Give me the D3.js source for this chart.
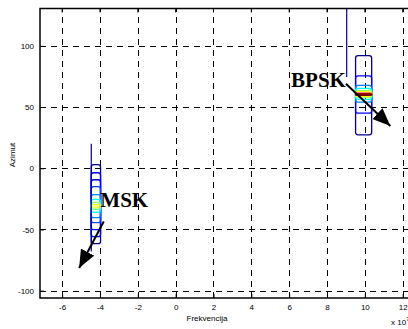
<!DOCTYPE html>
<html><head><meta charset="utf-8">
<script src="https://cdn.jsdelivr.net/npm/d3@7"></script>
<style>
html,body{margin:0;padding:0;background:#fff;overflow:hidden;}
svg{display:block;font-family:"Liberation Sans",Arial,sans-serif;}
</style></head>
<body>
<svg id="c" width="408" height="329"></svg>
<script>
// ---- data ----
const xTicks = [-6,-4,-2,0,2,4,6,8,10,12];
const yTicks = [-100,-50,0,50,100];
const xLabel = "Frekvencija";
const yLabel = "Azimut";
const xExponent = "7";

// jet-like colormap levels (index 0 = lowest)
const levelColors = ["#00008f","#0000ff","#0040ff","#0080ff","#00bfff","#00ffff","#80ff80","#ffff00","#ff8000","#ff0000","#800000"];

// MSK contour levels: y-range (top, bottom), level index
const mskX = [-4.46, -3.97];
const mskLevels = [
  {lvl:0, top:3.0,  bot:-61.6},
  {lvl:1, top:-3.7, bot:-55.9},
  {lvl:1, top:-9.4, bot:-50.2},
  {lvl:2, top:-15.0, bot:-44.5},
  {lvl:3, top:-21.6, bot:-40.4},
  {lvl:5, top:-25.5, bot:-36.0},
  {lvl:6, top:-28.0, bot:-33.5},
  {lvl:7, top:-29.8, bot:-31.8}
];
const mskStem = {x:-4.46, y0:20, y1:-68};

// BPSK contour levels
const bpskX = [9.51, 10.36];
const bpskLevels = [
  {lvl:0, top:92.0, bot:27.3},
  {lvl:1, top:75.4, bot:45.0},
  {lvl:3, top:67.7, bot:54.0},
  {lvl:5, top:65.3, bot:56.3},
  {lvl:6, top:63.6, bot:57.8},
  {lvl:7, top:62.8, bot:58.6},
  {lvl:9, top:61.3, bot:60.2},
  {lvl:10, top:60.6, bot:59.6}
];
const bpskStem = {x:9.04, y0:131, y1:74.5};

// annotations (data coordinates)
const annotations = [
  {text:"BPSK", tx:6.1, ty:66.2, ax0:9.0, ay0:69.0, ax1:11.35, ay1:34.5},
  {text:"MSK",  tx:-3.98, ty:-31.6, ax0:-3.8, ay0:-43.5, ax1:-5.1, ay1:-81.5}
];

// ---- layout ----
const svg = d3.select("#c");
const L = 40, T = 8.5, B = 298;
const x = d3.scaleLinear().domain([-7.17, 13]).range([L, L + 20.17*18.92]);
const y = d3.scaleLinear().domain([-106, 130.5]).range([B, T]);
const R = x.range()[1];

// grid
const grid = svg.append("g").attr("stroke","#000").attr("stroke-width",1).attr("stroke-dasharray","6,5").attr("fill","none");
grid.selectAll("line.vx").data(xTicks).join("line")
  .attr("x1",d=>Math.round(x(d))+0.5).attr("x2",d=>Math.round(x(d))+0.5)
  .attr("y1",B).attr("y2",T);
grid.selectAll("line.hy").data(yTicks).join("line")
  .attr("y1",d=>Math.round(y(d))+0.5).attr("y2",d=>Math.round(y(d))+0.5)
  .attr("x1",L).attr("x2",R);

// contours
function drawLevels(g, xr, levels){
  const x0 = x(xr[0]), x1 = x(xr[1]);
  g.selectAll("rect").data(levels).join("rect")
    .attr("x", x0).attr("width", x1 - x0)
    .attr("y", d=>y(d.top)).attr("height", d=>Math.max(0.8, y(d.bot)-y(d.top)))
    .attr("rx", d=>Math.min((x1-x0)/2, 2.5)).attr("ry", d=>Math.min((y(d.bot)-y(d.top))/2, 2.5))
    .attr("fill","none")
    .attr("stroke", d=>levelColors[d.lvl])
    .attr("stroke-width", d=>d.lvl>=9?1.6:1.3);
}
const gm = svg.append("g"); drawLevels(gm, mskX, mskLevels);
const gb = svg.append("g"); drawLevels(gb, bpskX, bpskLevels);
[mskStem, bpskStem].forEach(s=>{
  svg.append("line").attr("x1",x(s.x)).attr("x2",x(s.x)).attr("y1",y(s.y0)).attr("y2",y(s.y1))
    .attr("stroke","#00008f").attr("stroke-width",1.2);
});

// arrows
svg.append("defs").append("marker").attr("id","ah")
  .attr("viewBox","0 0 10 10").attr("refX",10).attr("refY",5)
  .attr("markerUnits","userSpaceOnUse").attr("markerWidth",18).attr("markerHeight",15)
  .attr("preserveAspectRatio","none")
  .attr("orient","auto")
  .append("path").attr("d","M0,0L10,5L0,10Z").attr("fill","#000");
const ga = svg.append("g");
ga.selectAll("line").data(annotations).join("line")
  .attr("x1",d=>x(d.ax0)).attr("y1",d=>y(d.ay0)).attr("x2",d=>x(d.ax1)).attr("y2",d=>y(d.ay1))
  .attr("stroke","#000").attr("stroke-width",2).attr("marker-end","url(#ah)");
ga.selectAll("text").data(annotations).join("text")
  .attr("x",d=>x(d.tx)).attr("y",d=>y(d.ty))
  .attr("font-family","'Liberation Serif','Times New Roman',serif")
  .attr("font-weight","bold").attr("font-size",21).attr("fill","#000")
  .text(d=>d.text);

// axes
const xAxis = d3.axisBottom(x).tickValues(xTicks).tickSize(-4).tickPadding(6).tickFormat(d3.format("d"));
const gx = svg.append("g").attr("transform",`translate(0,${B})`).call(xAxis);
const yAxis = d3.axisLeft(y).tickValues(yTicks).tickSize(-4).tickPadding(6).tickFormat(d3.format("d"));
const gy = svg.append("g").attr("transform",`translate(${L},0)`).call(yAxis);
[gx,gy].forEach(g=>{
  g.select(".domain").remove();
  g.selectAll("text").attr("font-size",8).attr("font-family","'Liberation Sans',Arial,sans-serif").attr("fill","#000");
  g.selectAll(".tick line").attr("stroke","#000");
});
gx.selectAll(".tick text").text(d=>d<0?"-"+Math.abs(d):d);
gy.selectAll(".tick text").text(d=>d<0?"-"+Math.abs(d):d);
// top ticks
svg.append("g").selectAll("line").data(xTicks).join("line")
  .attr("x1",d=>x(d)).attr("x2",d=>x(d)).attr("y1",T).attr("y2",T+4).attr("stroke","#000");

// box
svg.append("path").attr("d",`M${R},${T}H${L}V${B}H${R}`).attr("fill","none").attr("stroke","#000").attr("stroke-width",1.5);

// labels
svg.append("text").attr("x",207).attr("y",321).attr("text-anchor","middle")
  .attr("font-size",8).attr("fill","#000").text(xLabel);
const ex = svg.append("text").attr("x",391).attr("y",325).attr("font-size",8).attr("fill","#000");
ex.append("tspan").text("x 10");
ex.append("tspan").attr("dy",-4).attr("font-size",6).text(xExponent);
svg.append("text").attr("transform","translate(15,155) rotate(-90)").attr("text-anchor","middle")
  .attr("font-size",8).attr("fill","#000").text(yLabel);
</script>
</body></html>
